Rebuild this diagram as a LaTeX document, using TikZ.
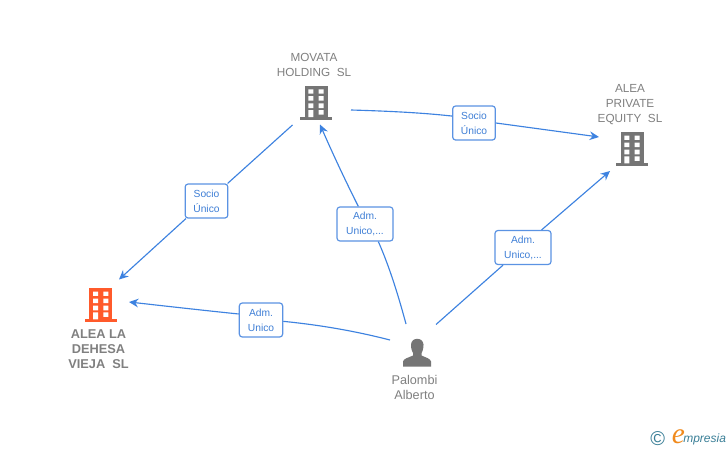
\documentclass[tikz,border=0pt]{standalone}
\usepackage{fontspec}
\setmainfont{Liberation Sans}
\newfontfamily\logofont{Liberation Serif}
\usetikzlibrary{arrows.meta}
\definecolor{linkblue}{HTML}{3D82E0}
\definecolor{boxblue}{HTML}{5B93E3}
\definecolor{lbltxt}{HTML}{3F7FD6}
\definecolor{icongray}{HTML}{757575}
\definecolor{txtgray}{HTML}{808080}
\definecolor{iconred}{HTML}{FF5A2B}
\definecolor{logoteal}{HTML}{3A7F97}
\definecolor{logoorange}{HTML}{F08A1D}
\newlength{\pxu}\setlength{\pxu}{0.75pt}
\newcommand{\bldg}[4]{% centre x, top y, colour, name
  \begin{scope}[shift={(#1,#2)}]
    \fill[#3] (-11.5,0) rectangle (11.5,33);
    \fill[#3] (-16,31) rectangle (16,33.6);
    \fill[white]
      (-7.7,3.3) rectangle (-2.7,7.6) (2.5,3.3) rectangle (7.5,7.6)
      (-7.7,10.2) rectangle (-2.7,14.7) (2.5,10.2) rectangle (7.5,14.7)
      (-7.7,17.3) rectangle (-2.7,22) (2.5,17.3) rectangle (7.5,22)
      (-7.7,24) rectangle (-2.7,31) (2.5,24) rectangle (7.5,28.5);
  \end{scope}
  \node[iconbox] (#4) at (#1,#2+17) {};
}
\tikzset{
  iconbox/.style={minimum width=32\pxu,minimum height=34\pxu,inner sep=0pt},
  nametext/.style={text=txtgray,font=\fontsize{8.8pt}{11.25pt}\selectfont,align=center,inner sep=0pt},
  tagbox/.style={draw=boxblue,line width=0.9pt,rounded corners=2.2pt,fill=white,text=lbltxt,
    font=\fontsize{7.7pt}{11.3pt}\selectfont,align=center,inner sep=0pt,minimum height=25.5pt,
    execute at begin node={\rule{0pt}{7.2pt}}},
  link/.style={draw=linkblue,line width=0.85pt},
  arrowed/.style={link,-{Stealth[length=7pt,width=6.5pt]}},
}
\begin{document}
\begin{tikzpicture}[x=0.75pt,y=-0.75pt]
\useasboundingbox (0,0) rectangle (728,450);
\fill[white] (0,0) rectangle (728,450);
% icons
\bldg{316}{86}{icongray}{movata}
\bldg{632}{132.3}{icongray}{alea}
\bldg{100.8}{288.3}{iconred}{dehesa}
\node[iconbox] (palombi) at (417,352) {};
\fill[icongray] (403,366.5) -- (403,361.5) .. controls (403.5,358.5) and (409,357.5) .. (413,355.5)
  -- (413,353) .. controls (411.5,351) and (410.8,346) .. (411,344.5)
  .. controls (411.3,340.8) and (414,338.8) .. (417.2,338.8)
  .. controls (420.5,338.8) and (423.2,340.8) .. (423.5,344.5)
  .. controls (423.7,346) and (423,351) .. (421.5,353)
  -- (421.5,355.5) .. controls (425.5,357.5) and (430.5,358.5) .. (431,361.5) -- (431,366.5) -- cycle;
% names
\node[nametext] (tmovata) at (314,64.5) {MOVATA\\HOLDING\ \ SL};
\node[nametext] (talea) at (630,104.5) {ALEA\\PRIVATE\\EQUITY\ \ SL};
\node[nametext,font=\bfseries\fontsize{9.6pt}{11.25pt}\selectfont] (tdehesa) at (98.5,349) {ALEA LA\\DEHESA\\VIEJA\ \ SL};
\node[nametext,font=\fontsize{9.5pt}{11.25pt}\selectfont] (tpalombi) at (414.5,387) {Palombi\\Alberto};
% tags
\node[tagbox,minimum width=32pt] (t1) at (474,123) {Socio\\Único};
\node[tagbox,minimum width=32pt] (t2) at (206.5,201) {Socio\\Único};
\node[tagbox,minimum width=42pt] (t3) at (365,224) {Adm.\\Unico,...};
\node[tagbox,minimum width=42pt] (t4) at (523,247.5) {Adm.\\Unico,...};
\node[tagbox,minimum width=32.5pt] (t5) at (261,320) {Adm.\\Unico};
% free ends
\coordinate (a1) at (351,110);
\coordinate (b1) at (599,137);
\coordinate (a2) at (292.5,125);
\coordinate (b2) at (119,279.5);
\coordinate (a3) at (406,324);
\coordinate (b3) at (320,124.5);
\coordinate (a4) at (436,324.5);
\coordinate (b4) at (610,171);
\coordinate (a5) at (390,340);
\coordinate (b5) at (129,302);
% connectors
\draw[link] (a1) .. controls (385,111) and (420,112.5) .. ([yshift=5.2pt]t1.west);
\draw[arrowed] (t1.east) -- (b1);
\draw[link] (a2) -- ([xshift=-0.6pt]t2.north east);
\draw[arrowed] ([xshift=1pt]t2.south west) -- (b2);
\draw[link] (a3) .. controls (399,298) and (390,268) .. ([xshift=10pt]t3.south);
\draw[arrowed] ([xshift=-5pt]t3.north) .. controls (345,180) and (332,152) .. (b3);
\draw[link] (a4) -- ([xshift=6.5pt]t4.south west);
\draw[arrowed] ([xshift=-7.5pt]t4.north east) -- (b4);
\draw[link] (a5) .. controls (355,331) and (320,325) .. ([yshift=-1pt]t5.east);
\draw[arrowed] ([yshift=4.5pt]t5.west) .. controls (200,310) and (165,306) .. (b5);
% logo
\node[inner sep=0pt,text=logoteal,font=\fontsize{15pt}{15pt}\selectfont] (copyr) at (657.8,438.5) {©};
\node[inner sep=0pt,anchor=base west,text=logoorange,font=\logofont\itshape\fontsize{22pt}{22pt}\selectfont] (logoe) at (671.5,443.5) {e};
\node[inner sep=0pt,anchor=base west,text=logoteal,font=\itshape\fontsize{9pt}{10pt}\selectfont] (logot) at (683,442.5) {mpresia};
\end{tikzpicture}
\end{document}
